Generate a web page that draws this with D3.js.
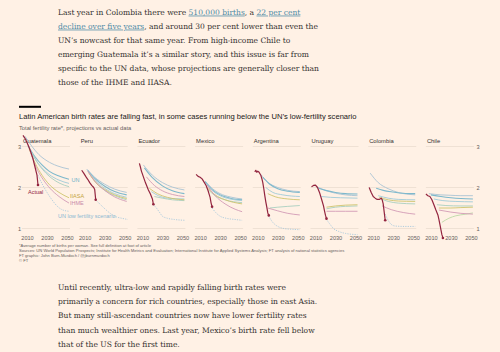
<!DOCTYPE html>
<html lang="en">
<head>
<meta charset="UTF-8">
<title>Latin American birth rates</title>
<style>
  html, body { padding:0; margin:0; background:#fff1e5; }
  svg { display:block; }
</style>
</head>
<body>
<script src="https://cdn.jsdelivr.net/npm/d3@7"></script>
<script>
// ---- data ----
var countries = ['Guatemala', 'Peru', 'Ecuador', 'Mexico', 'Argentina', 'Uruguay', 'Colombia', 'Chile'];
var yearTicks = [2010, 2030, 2050];
var valueTicks = [1, 2, 3];

// observed total fertility rate, [year, value], one list per country
var actual = [
  [[2006,3.27],[2008,3.2],[2010,3.1],[2012,2.98],[2014,2.85],[2016,2.7],[2018,2.5],[2019,2.4],[2020,2.3],[2021,2.06]],
  [[2007,2.42],[2009,2.35],[2011,2.27],[2013,2.2],[2015,2.12],[2017,2.05],[2019,2.0],[2020,1.95],[2021,1.7]],
  [[2007,2.59],[2008,2.5],[2009,2.4],[2011,2.26],[2013,2.12],[2016,1.94],[2018,1.84],[2020,1.72],[2021,1.59]],
  [[2006,2.32],[2008,2.27],[2010,2.25],[2012,2.21],[2014,2.13],[2016,2.05],[2018,1.92],[2019,1.84],[2020,1.76],[2021,1.62],[2022,1.53]],
  [[2007,2.38],[2008,2.42],[2009,2.37],[2010,2.4],[2011,2.38],[2012,2.34],[2013,2.3],[2014,2.22],[2015,2.12],[2016,1.97],[2017,1.8],[2018,1.65],[2019,1.52],[2020,1.38],[2021,1.32]],
  [[2006,2.02],[2008,2.05],[2010,2.06],[2012,2.0],[2014,1.88],[2016,1.72],[2018,1.55],[2019,1.43],[2020,1.32],[2021,1.24]],
  [[2006,2.0],[2008,1.88],[2010,1.78],[2012,1.74],[2014,1.71],[2016,1.71],[2018,1.74],[2019,1.7],[2020,1.6],[2021,1.4],[2022,1.2]],
  [[2005,1.84],[2007,1.8],[2009,1.78],[2011,1.7],[2013,1.58],[2015,1.45],[2017,1.33],[2018,1.22],[2019,1.1],[2020,0.97],[2021,0.85],[2022,0.77]]
];

// UN World Population Prospects, medium variant, several editions per country
var unMedium = [
  [ [[2008,3.25],[2015,3.0],[2022,2.8],[2030,2.65],[2040,2.53],[2052,2.45]],
    [[2011,3.02],[2018,2.75],[2025,2.55],[2032,2.4],[2042,2.28],[2052,2.2]],
    [[2012,2.98],[2018,2.7],[2025,2.48],[2032,2.32],[2042,2.18],[2052,2.1]],
    [[2015,2.85],[2020,2.62],[2027,2.4],[2035,2.22],[2043,2.1],[2052,2.02]] ],
  [ [[2012,2.45],[2020,2.25],[2030,2.08],[2040,1.96],[2052,1.88]],
    [[2013,2.42],[2020,2.22],[2030,2.03],[2040,1.9],[2052,1.82]],
    [[2014,2.38],[2021,2.17],[2030,1.98],[2040,1.85],[2052,1.76]],
    [[2015,2.33],[2022,2.1],[2030,1.93],[2040,1.8],[2052,1.7]] ],
  [ [[2011,2.55],[2020,2.3],[2030,2.12],[2040,2.01],[2052,1.94]],
    [[2012,2.48],[2020,2.24],[2030,2.04],[2040,1.92],[2052,1.85]],
    [[2019,1.9],[2026,1.8],[2035,1.74],[2052,1.72]],
    [[2022,1.78],[2030,1.74],[2040,1.7],[2052,1.68]] ],
  [ [[2015,2.16],[2022,1.98],[2030,1.85],[2040,1.77],[2052,1.72]],
    [[2015,2.14],[2022,1.95],[2030,1.82],[2040,1.74],[2052,1.7]],
    [[2016,2.1],[2022,1.93],[2030,1.8],[2040,1.72],[2052,1.68]],
    [[2018,1.95],[2025,1.8],[2035,1.7],[2052,1.63]] ],
  [ [[2013,2.32],[2020,2.13],[2030,2.0],[2040,1.93],[2052,1.9]],
    [[2015,2.25],[2022,2.08],[2030,1.97],[2040,1.91],[2052,1.88]],
    [[2018,2.0],[2025,1.88],[2035,1.82],[2052,1.78]],
    [[2022,1.5],[2030,1.52],[2040,1.54],[2052,1.56]] ],
  [ [[2011,2.02],[2020,1.93],[2030,1.86],[2040,1.82],[2052,1.8]],
    [[2013,1.98],[2020,1.93],[2030,1.88],[2040,1.85],[2052,1.84]],
    [[2016,1.78],[2025,1.76],[2035,1.75],[2052,1.74]],
    [[2021,1.48],[2030,1.52],[2040,1.54],[2052,1.55]] ],
  [ [[2007,2.35],[2015,2.12],[2025,1.97],[2035,1.88],[2052,1.82]],
    [[2013,1.98],[2020,1.93],[2030,1.89],[2040,1.86],[2052,1.85]],
    [[2015,1.8],[2025,1.74],[2035,1.71],[2052,1.7]],
    [[2018,1.72],[2025,1.66],[2035,1.62],[2052,1.6]] ],
  [ [[2008,1.85],[2020,1.82],[2030,1.81],[2040,1.8],[2052,1.8]],
    [[2010,1.82],[2020,1.78],[2030,1.75],[2040,1.73],[2052,1.72]],
    [[2013,1.72],[2022,1.68],[2035,1.66],[2052,1.65]],
    [[2016,1.58],[2025,1.56],[2040,1.55],[2052,1.55]],
    [[2021,1.15],[2028,1.25],[2035,1.31],[2045,1.35],[2052,1.38]] ]
];

var iiasa = [
  [[2012,2.95],[2018,2.6],[2025,2.3],[2032,2.08],[2042,1.88],[2052,1.75]],
  [[2014,2.36],[2021,2.12],[2030,1.95],[2040,1.82],[2052,1.73]],
  [[2017,1.98],[2025,1.85],[2035,1.76],[2052,1.7]],
  [[2017,2.0],[2025,1.82],[2035,1.7],[2052,1.6]],
  [[2020,1.85],[2028,1.77],[2040,1.72],[2052,1.7]],
  [[2021,1.52],[2030,1.55],[2040,1.57],[2052,1.58]],
  [[2016,1.76],[2025,1.7],[2035,1.67],[2052,1.66]],
  [[2018,1.5],[2030,1.5],[2040,1.51],[2052,1.52]]
];

var ihme = [
  [[2013,2.9],[2019,2.5],[2026,2.2],[2033,1.98],[2042,1.78],[2052,1.62]],
  [[2013,2.4],[2020,2.16],[2030,1.93],[2040,1.77],[2052,1.66]],
  [[2014,2.26],[2022,2.05],[2030,1.92],[2040,1.83],[2052,1.78]],
  [[2017,2.06],[2025,1.8],[2035,1.6],[2045,1.47],[2052,1.41]],
  [[2020,1.5],[2030,1.43],[2040,1.37],[2052,1.33]],
  [[2021,1.42],[2030,1.42],[2040,1.42],[2052,1.42]],
  [[2019,1.55],[2028,1.46],[2040,1.39],[2052,1.35]],
  [[2018,1.45],[2030,1.4],[2040,1.37],[2052,1.35]]
];

// UN low-fertility scenario
var unLow = [
  [[2021,2.3],[2026,2.05],[2030,1.88],[2035,1.7],[2040,1.55],[2045,1.46],[2052,1.42]],
  [[2021,1.7],[2025,1.6],[2028,1.53],[2032,1.44],[2036,1.36],[2042,1.28],[2047,1.25],[2053,1.22]],
  [[2021,1.58],[2024,1.5],[2027,1.4],[2030,1.3],[2035,1.25],[2042,1.22],[2053,1.2]],
  [[2022,1.5],[2026,1.38],[2030,1.3],[2036,1.25],[2045,1.22],[2052,1.2]],
  [[2021,1.3],[2024,1.18],[2027,1.1],[2030,1.05],[2036,1.0],[2045,0.98],[2052,0.97]],
  [[2021,1.22],[2024,1.12],[2028,1.0],[2033,0.93],[2040,0.88],[2052,0.85]],
  [[2022,1.35],[2025,1.2],[2028,1.1],[2032,1.06],[2042,1.05],[2052,1.05]],
  []
];

var topText = [
  [['Last year in Colombia there were ', 0], ['510,000 births', 1], [', a ', 0], ['22 per cent', 1]],
  [['decline over five years', 1], [', and around 30 per cent lower than even the', 0]],
  [['UN\u2019s nowcast for that same year. From high-income Chile to', 0]],
  [['emerging Guatemala it\u2019s a similar story, and this issue is far from', 0]],
  [['specific to the UN data, whose projections are generally closer than', 0]],
  [['those of the IHME and IIASA.', 0]]
];
var bottomText = [
  [['Until recently, ultra-low and rapidly falling birth rates were', 0]],
  [['primarily a concern for rich countries, especially those in east Asia.', 0]],
  [['But many still-ascendant countries now have lower fertility rates', 0]],
  [['than much wealthier ones. Last year, Mexico\u2019s birth rate fell below', 0]],
  [['that of the US for the first time.', 0]]
];

// ---- drawing ----
var width = 500, height = 352;
var sans = "'Liberation Sans', Arial, sans-serif",
    serif = "'DejaVu Serif', Georgia, serif";
var ink = '#33302e', grey = '#66605c', link = '#4d8aa6',
    claret = '#93253f', unCol = ['#a9c3d4', '#7db8cc', '#9fcbd8', '#a9cfbf', '#bcd9a6'],
    iiasaCol = '#cfc46e', ihmeCol = '#d39bb6', lowCol = '#9cc3da';

var svg = d3.select('body').append('svg')
    .attr('width', width)
    .attr('height', height);

svg.append('rect').attr('width', width).attr('height', height).attr('fill', '#fff1e5');

function fitSize(sel, target) {
  var w = sel.node().getComputedTextLength();
  var fs = parseFloat(sel.attr('font-size'));
  return fs * target / w;
}

function paragraph(lines, x, y0, lh, fitIndex, target) {
  var g = svg.append('g');
  var rows = g.selectAll('text').data(lines).enter().append('text')
      .attr('x', x)
      .attr('y', function(d, i) { return y0 + i * lh; })
      .attr('font-family', serif)
      .attr('font-size', 10)
      .attr('fill', ink);
  rows.selectAll('tspan').data(function(d) { return d; }).enter().append('tspan')
      .text(function(d) { return d[0]; })
      .attr('fill', function(d) { return d[1] ? link : ink; })
      .style('text-decoration', function(d) { return d[1] ? 'underline' : null; });
  var fs = fitSize(d3.select(rows.nodes()[fitIndex]), target);
  rows.attr('font-size', fs);
}

paragraph(topText, 58, 14.6, 14, 1, 260);
paragraph(bottomText, 58, 289.5, 14.4, 1, 260);

// heading
svg.append('rect').attr('x', 19).attr('y', 105.8).attr('width', 22).attr('height', 2).attr('fill', '#000');

var title = svg.append('text')
    .attr('x', 19).attr('y', 119)
    .attr('font-family', sans).attr('font-size', 8).attr('fill', '#1a1817')
    .text('Latin American birth rates are falling fast, in some cases running below the UN\u2019s low-fertility scenario');
title.attr('font-size', fitSize(title, 338));

var sub = svg.append('text')
    .attr('x', 19).attr('y', 130)
    .attr('font-family', sans).attr('font-size', 6).attr('fill', grey)
    .text('Total fertility rate*, projections vs actual data');
sub.attr('font-size', fitSize(sub, 112.5));

// panels
var band = d3.scaleBand()
    .domain(countries)
    .range([22, 22 + 8 * 57.7 - 9.7])
    .paddingInner(9.7 / 57.7)
    .paddingOuter(0);

var y = d3.scaleLinear().domain([1, 3]).range([228.5, 146.5]);

function lineFor(x, curve) {
  return d3.line()
      .x(function(d) { return x(d[0]); })
      .y(function(d) { return y(d[1]); })
      .curve(curve);
}

var xScales = [];

countries.forEach(function(c, i) {
  var x0 = band(c);
  var x = d3.scaleLinear().domain([2005, 2053]).range([x0, x0 + band.bandwidth()]);
  xScales.push(x);
  var g = svg.append('g').attr('class', 'panel');

  g.selectAll('line.grid').data(valueTicks).enter().append('line')
      .attr('class', 'grid')
      .attr('x1', x0).attr('x2', x0 + band.bandwidth())
      .attr('y1', function(d) { return y(d); })
      .attr('y2', function(d) { return y(d); })
      .attr('stroke', '#e8dacd').attr('stroke-width', 0.7);

  g.append('text')
      .attr('x', x0 + 1).attr('y', 143.2)
      .attr('font-family', sans).attr('font-size', 5.8).attr('fill', ink)
      .text(c);

  var axis = g.append('g')
      .attr('transform', 'translate(0,236.5)')
      .call(d3.axisBottom(x).tickValues(yearTicks).tickSize(0).tickPadding(0).tickFormat(d3.format('d')));
  axis.select('.domain').remove();
  axis.selectAll('text').attr('font-family', sans).attr('font-size', 5.6).attr('fill', grey);

  var curve = lineFor(x, d3.curveMonotoneX);

  g.append('path')
      .attr('d', curve(unLow[i]))
      .attr('fill', 'none').attr('stroke', lowCol).attr('stroke-width', 0.8)
      .attr('stroke-dasharray', '1.2,1.2');

  unMedium[i].forEach(function(s, k) {
    g.append('path')
        .attr('d', curve(s))
        .attr('fill', 'none').attr('stroke', unCol[k])
        .attr('stroke-width', k === 1 ? 1.1 : 0.9);
  });

  g.append('path').attr('d', curve(iiasa[i]))
      .attr('fill', 'none').attr('stroke', iiasaCol).attr('stroke-width', 0.9);
  g.append('path').attr('d', curve(ihme[i]))
      .attr('fill', 'none').attr('stroke', ihmeCol).attr('stroke-width', 0.9);

  var a = actual[i];
  g.append('path').attr('d', lineFor(x, d3.curveLinear)(a))
      .attr('fill', 'none').attr('stroke', claret).attr('stroke-width', 1.2)
      .attr('stroke-linejoin', 'round');
  g.append('circle')
      .attr('cx', x(a[a.length - 1][0])).attr('cy', y(a[a.length - 1][1]))
      .attr('r', 1.3).attr('fill', claret);
});

// value axes, left and right
var yl = svg.append('g').attr('transform', 'translate(22,0)')
    .call(d3.axisLeft(y).tickValues(valueTicks).tickSize(0).tickPadding(1).tickFormat(d3.format('d')));
var yr = svg.append('g').attr('transform', 'translate(474,0)')
    .call(d3.axisRight(y).tickValues(valueTicks).tickSize(0).tickPadding(2.5).tickFormat(d3.format('d')));
[yl, yr].forEach(function(ax) {
  ax.select('.domain').remove();
  ax.selectAll('text').attr('font-family', sans).attr('font-size', 5.6).attr('fill', grey);
});

// annotations on the first panel
var gx = xScales[0];
function note(t, px, py, col) {
  svg.append('text').attr('x', px).attr('y', py)
      .attr('dominant-baseline', 'middle')
      .attr('font-family', sans).attr('font-size', 5.5).attr('fill', col)
      .text(t);
}
note('UN', gx(2054.5), y(2.16), '#6fb0c8');
note('Actual', gx(2011), y(1.87), claret);
note('IIASA', gx(2052) + 1, y(1.77), '#c4a43c');
note('IHME', gx(2052) + 1, y(1.61), '#c98aa9');
note('UN low fertility scenario', gx(2041), y(1.29), '#8ab8d2');

// footnotes
var notes = [
  '*Average number of births per woman. See full definition at foot of article',
  'Sources: UN World Population Prospects; Institute for Health Metrics and Evaluation; International Institute for Applied Systems Analysis; FT analysis of national statistics agencies',
  'FT graphic: John Burn-Murdoch / @jburnmurdoch',
  '\u00a9 FT'
];
var foot = svg.append('g').selectAll('text').data(notes).enter().append('text')
    .attr('x', 19)
    .attr('y', function(d, i) { return 247.4 + i * 5; })
    .attr('font-family', sans).attr('font-size', 5).attr('fill', grey)
    .text(function(d) { return d; });
foot.attr('font-size', fitSize(d3.select(foot.nodes()[1]), 326));
</script>
</body>
</html>
